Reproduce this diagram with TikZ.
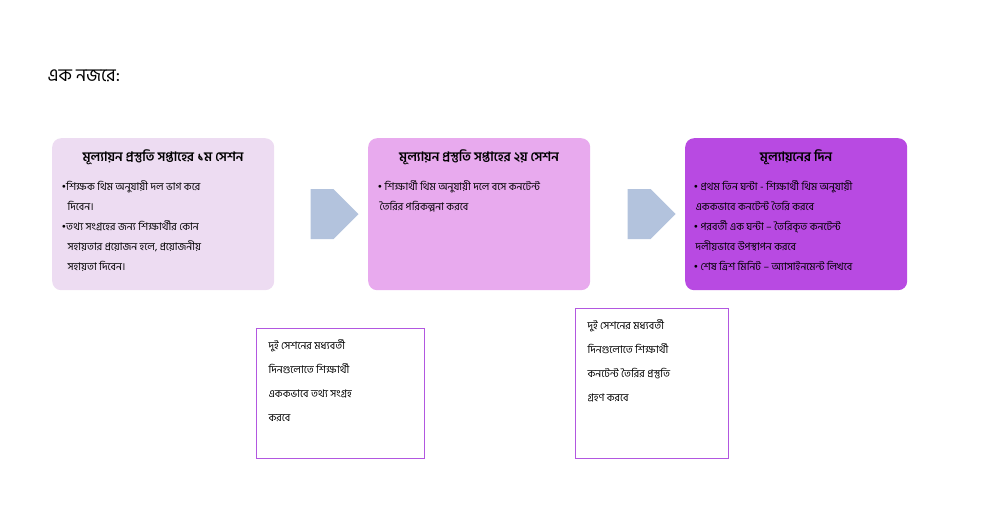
\documentclass[tikz,border=0pt]{standalone}
\usepackage{fontspec}
\newfontfamily\bn[Script=Bengali]{Hind Siliguri}
\usetikzlibrary{shapes.arrows}
\definecolor{cA}{HTML}{EDDCF2}
\definecolor{cB}{HTML}{E8AAEE}
\definecolor{cC}{HTML}{B84AE2}
\definecolor{arr}{HTML}{B3C3DD}
\definecolor{nb}{HTML}{B257E0}
\tikzset{x=1pt,y=-1pt,
 panel/.style={rounded corners=9pt,draw=none,minimum width=222pt,minimum height=152pt,anchor=north west},
 ttl/.style={font=\bn\bfseries\fontsize{13}{15}\selectfont,anchor=north},
 body/.style={font=\bn\fontsize{10.5}{20}\selectfont,anchor=north west,align=left},
 note/.style={draw=nb,line width=1.2pt,anchor=north west,inner sep=0pt},
 blk/.style={single arrow,fill=arr,draw=none,minimum height=48pt,minimum width=50pt,single arrow head extend=0pt,inner sep=6pt}}
\begin{document}
\begin{tikzpicture}
\useasboundingbox (0,0) rectangle (994,517);
\node[font=\bn\fontsize{18}{20}\selectfont,anchor=west] (t) at (44,76) {এক নজরে:};
\node[panel,fill=cA] (b1) at (52,138) {};
\node[panel,fill=cB] (b2) at (368,138) {};
\node[panel,fill=cC] (b3) at (685,138) {};
\node[ttl] (t1) at (163,146) {মূল্যায়ন প্রস্তুতি সপ্তাহের ১ম সেশন};
\node[ttl] (t2) at (479,146) {মূল্যায়ন প্রস্তুতি সপ্তাহের ২য় সেশন};
\node[ttl] (t3) at (796,146) {মূল্যায়নের দিন};
\node[body] (x1) at (58,177) {•শিক্ষক থিম অনুযায়ী দল ভাগ করে\\\hspace*{6pt}দিবেন।\\•তথ্য সংগ্রহের জন্য শিক্ষার্থীর কোন\\\hspace*{6pt}সহায়তার প্রয়োজন হলে, প্রয়োজনীয়\\\hspace*{6pt}সহায়তা দিবেন।};
\node[body] (x2) at (374,177) {• শিক্ষার্থী থিম অনুযায়ী দলে বসে কনটেন্ট\\\hspace*{2pt}তৈরির পরিকল্পনা করবে};
\node[body] (x3) at (690,177) {• প্রথম তিন ঘন্টা - শিক্ষার্থী থিম অনুযায়ী\\\hspace*{2pt}এককভাবে কনটেন্ট তৈরি করবে\\• পরবর্তী এক ঘন্টা – তৈরিকৃত কনটেন্ট\\\hspace*{2pt}দলীয়ভাবে উপস্থাপন করবে\\• শেষ ত্রিশ মিনিট – অ্যাসাইনমেন্ট লিখবে};
\node[blk] (a1) at (322,214) {};
\node[blk] (a2) at (639,214) {};
\node[note,minimum width=168pt,minimum height=130pt] (n1) at (256,328) {};
\node[body,font=\bn\fontsize{10.5}{24}\selectfont] (m1) at (265,336) {দুই সেশনের মধ্যবর্তী\\দিনগুলোতে শিক্ষার্থী\\এককভাবে তথ্য সংগ্রহ\\করবে};
\node[note,minimum width=153pt,minimum height=150pt] (n2) at (575,308) {};
\node[body,font=\bn\fontsize{10.5}{24}\selectfont] (m2) at (584,316) {দুই সেশনের মধ্যবর্তী\\দিনগুলোতে শিক্ষার্থী\\কনটেন্ট তৈরির প্রস্তুতি\\গ্রহণ করবে};
\end{tikzpicture}
\end{document}
